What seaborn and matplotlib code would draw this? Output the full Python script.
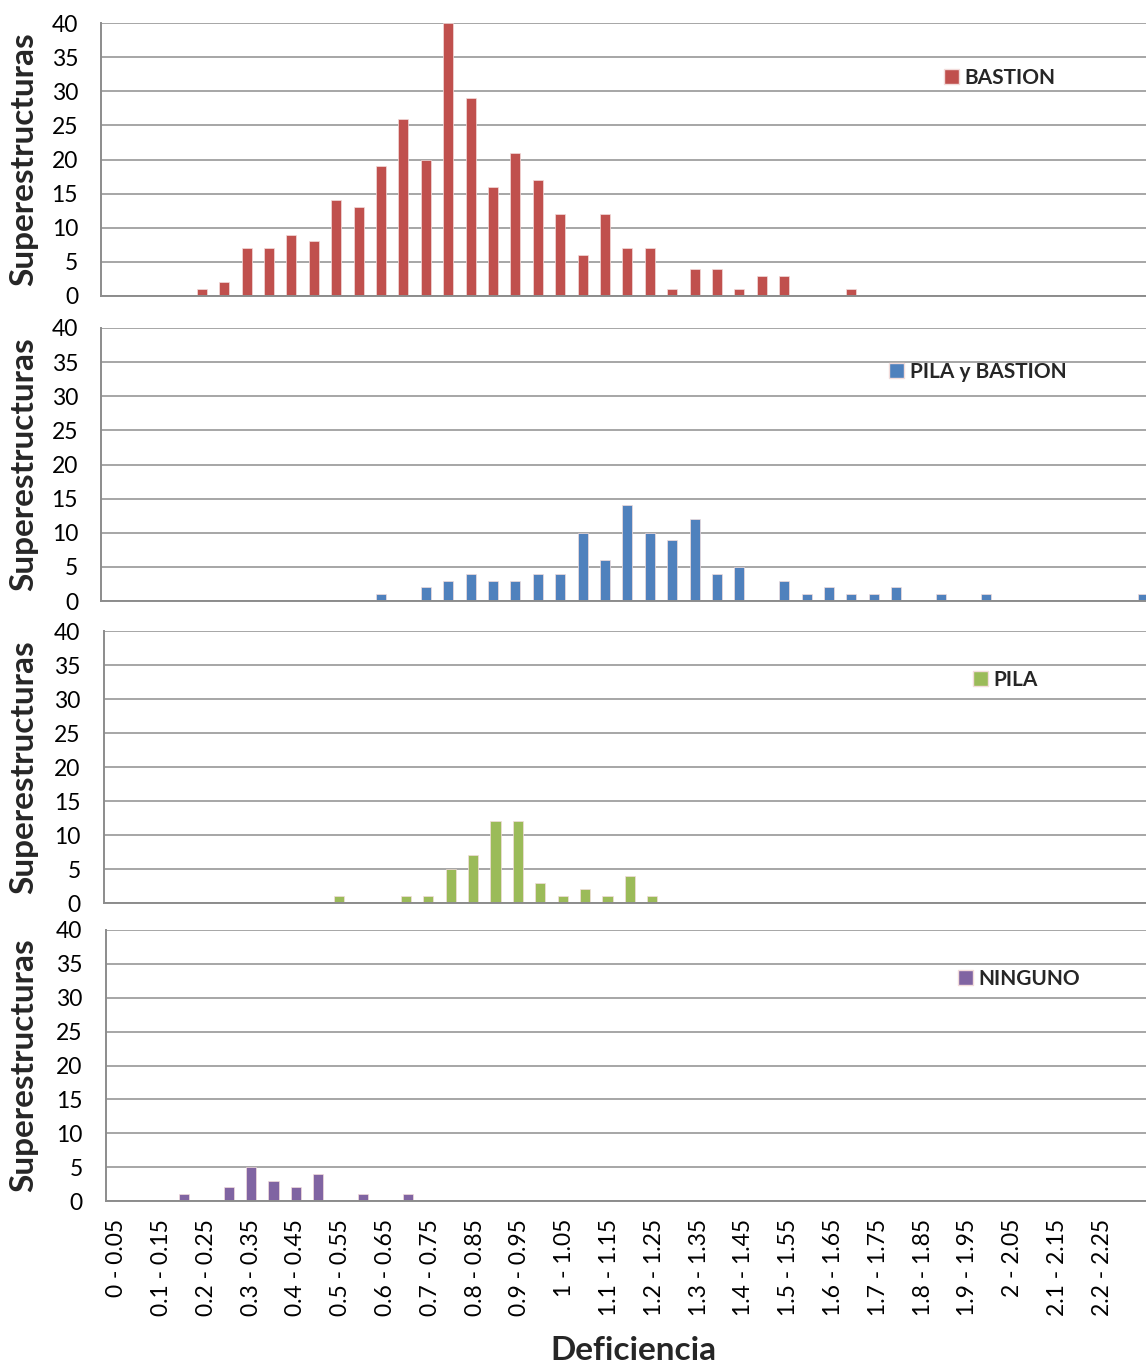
import matplotlib
matplotlib.use("Agg")
import matplotlib.pyplot as plt
from matplotlib.patches import Patch
import seaborn as sns

# Deficiency bins (0.05 wide)
categories = [
    "0 - 0.05", "0.05 - 0.1", "0.1 - 0.15", "0.15 - 0.2", "0.2 - 0.25", "0.25 - 0.3",
    "0.3 - 0.35", "0.35 - 0.4", "0.4 - 0.45", "0.45 - 0.5", "0.5 - 0.55", "0.55 - 0.6",
    "0.6 - 0.65", "0.65 - 0.7", "0.7 - 0.75", "0.75 - 0.8", "0.8 - 0.85", "0.85 - 0.9",
    "0.9 - 0.95", "0.95 - 1", "1 - 1.05", "1.05 - 1.1", "1.1 - 1.15", "1.15 - 1.2",
    "1.2 - 1.25", "1.25 - 1.3", "1.3 - 1.35", "1.35 - 1.4", "1.4 - 1.45", "1.45 - 1.5",
    "1.5 - 1.55", "1.55 - 1.6", "1.6 - 1.65", "1.65 - 1.7", "1.7 - 1.75", "1.75 - 1.8",
    "1.8 - 1.85", "1.85 - 1.9", "1.9 - 1.95", "1.95 - 2", "2 - 2.05", "2.05 - 2.1",
    "2.1 - 2.15", "2.15 - 2.2", "2.2 - 2.25", "2.25 - 2.3", "2.3 - 2.35",
]

bastion = [0, 0, 0, 0, 1, 2, 7, 7, 9, 8, 14, 13, 19, 26, 20, 40, 29, 16, 21, 17,
           12, 6, 12, 7, 7, 1, 4, 4, 1, 3, 3, 0, 0, 1, 0, 0, 0, 0, 0, 0,
           0, 0, 0, 0, 0, 0, 0]
pila_bastion = [0, 0, 0, 0, 0, 0, 0, 0, 0, 0, 0, 0, 1, 0, 2, 3, 4, 3, 3, 4,
                4, 10, 6, 14, 10, 9, 12, 4, 5, 0, 3, 1, 2, 1, 1, 2, 0, 1, 0, 1,
                0, 0, 0, 0, 0, 0, 1]
pila = [0, 0, 0, 0, 0, 0, 0, 0, 0, 0, 1, 0, 0, 1, 1, 5, 7, 12, 12, 3,
        1, 2, 1, 4, 1, 0, 0, 0, 0, 0, 0, 0, 0, 0, 0, 0, 0, 0, 0, 0,
        0, 0, 0, 0, 0, 0, 0]
ninguno = [0, 0, 0, 1, 0, 2, 5, 3, 2, 4, 0, 1, 0, 1, 0, 0, 0, 0, 0, 0,
           0, 0, 0, 0, 0, 0, 0, 0, 0, 0, 0, 0, 0, 0, 0, 0, 0, 0, 0, 0,
           0, 0, 0, 0, 0, 0, 0]

series_names = ["BASTION", "PILA y BASTION", "PILA", "NINGUNO"]
series_values = [bastion, pila_bastion, pila, ninguno]
colors = ["#C0504D", "#4F81BD", "#9BBB59", "#8064A2"]

sns.set_theme(style="white")
plt.rcParams["font.family"] = ["Lato", "DejaVu Sans"]

W, H = 1146, 1364
fig = plt.figure(figsize=(W / 100, H / 100), dpi=100)

# panel boxes in pixels: (left, top, bottom)
panels = [(101, 23, 296), (101, 328, 601), (103.5, 631, 903), (105.5, 930, 1201)]
legend_pos = [(944, 78), (889, 372), (973, 680), (958, 979)]
cat_w = 22.4
grey = "#8C8C8C"

for i, (name, vals, col) in enumerate(zip(series_names, series_values, colors)):
    left, top, bottom = panels[i]
    ax = fig.add_axes([left / W, 1 - bottom / H, (W - left) / W, (bottom - top) / H])
    sns.barplot(x=categories, y=vals, order=categories, color=col, width=0.45,
                saturation=1, edgecolor="#F2DCDB", linewidth=0.5, ax=ax)
    ax.set_ylim(0, 40)
    ax.set_xlim(-0.5, -0.5 + (W - left) / cat_w)
    ax.set_yticks(range(0, 41, 5))
    ax.set_axisbelow(True)
    ax.yaxis.grid(True, color="#A6A6A6", linewidth=1.4)
    ax.xaxis.grid(False)
    for s in ["top", "right"]:
        ax.spines[s].set_visible(False)
    for s in ["left", "bottom"]:
        ax.spines[s].set_color(grey)
        ax.spines[s].set_linewidth(1.4)
    ax.tick_params(axis="y", length=6.5, width=1.2, color=grey, pad=10,
                   labelsize=16.5, labelcolor="black")
    ax.set_ylabel("")
    ax.set_xlabel("")
    if i == 3:
        ax.set_xticks(range(0, 45, 2), categories[0:45:2])
        ax.tick_params(axis="x", length=0, pad=13, labelsize=16.5,
                       labelrotation=90, labelcolor="black")
    else:
        ax.set_xticks([])

    fig.text(24 / W, 1 - (top + bottom) / 2 / H, "Superestructuras", rotation=90,
             ha="center", va="center", fontsize=24, fontweight="bold")

    lx, ly = legend_pos[i]
    ax.legend(handles=[Patch(facecolor=col, edgecolor="#F2DCDB", label=name)],
              loc="center left",
              bbox_to_anchor=((lx - left) / (W - left), (bottom - ly) / (bottom - top)),
              frameon=False, borderpad=0, borderaxespad=0, handlelength=0.7,
              handleheight=0.7, handletextpad=0.3,
              prop={"size": 15, "weight": "bold"})

fig.text(633 / W, 1 - 1350 / H, "Deficiencia", ha="center", va="center",
         fontsize=24, fontweight="bold")

fig.savefig("out.png", dpi=100)
